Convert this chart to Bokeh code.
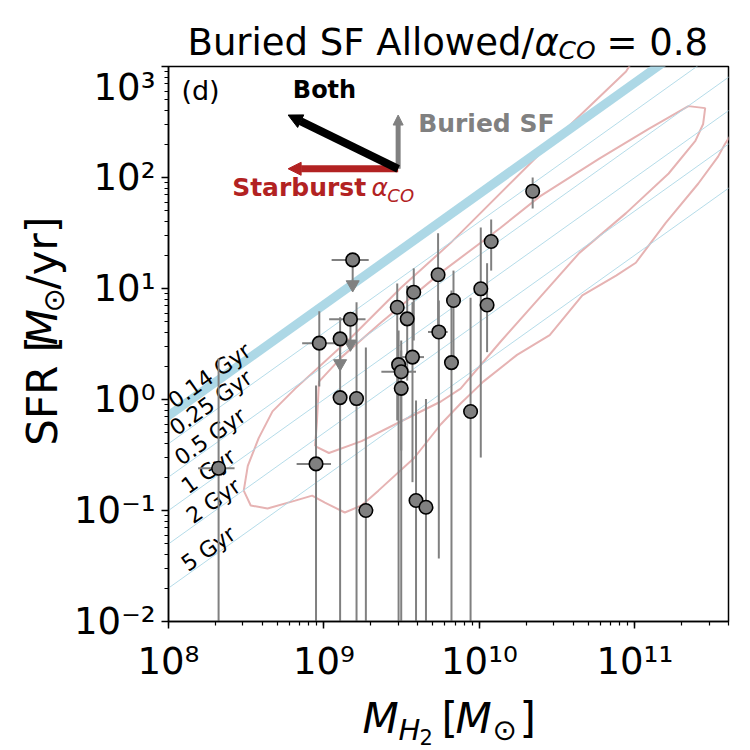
import math
from bokeh.plotting import figure
from bokeh.layouts import column, row
from bokeh.models import (Range1d, CustomJSTickFormatter, Label, Arrow,
                          NormalHead, ColumnDataSource)
from bokeh.core.properties import value
from bokeh.embed import file_html
from bokeh.resources import INLINE

nan = float("nan")

# ---------------- data ----------------
mh2 = [2.20e10, 1.19e10, 1.53e9, 5.42e9, 3.78e9, 1.02e10, 6.81e9, 1.12e10, 2.96e9,
       3.43e9, 1.48e9, 9.33e8, 1.27e9, 5.48e9, 3.71e9, 6.61e9, 3.02e9, 3.14e9,
       3.14e9, 1.27e9, 1.62e9, 8.77e9, 8.89e8, 2.10e8, 1.86e9, 3.91e9, 4.53e9]
sfr = [75.3, 26.5, 18.1, 13.3, 9.26, 9.94, 7.80, 7.10, 6.78,
       5.33, 5.29, 3.22, 3.52, 4.06, 2.41, 2.15, 2.06, 1.78,
       1.26, 1.04, 1.02, 0.780, 0.263, 0.240, 0.100, 0.123, 0.107]
sfr_lo = [52.6, 14.5, nan, 4.19, 3.40, 0.30, 2.25, 2.67, 0.647,
          1.48, nan, 1.31, nan, 0.037, 0.180, 1e-3, 1e-3, 0.347,
          1e-3, 1e-3, 1e-3, 1e-3, 1e-3, 1e-3, 1e-3, 1e-3, 1e-3]
sfr_hi = [100, 41.8, nan, 31.5, 15.2, 35.5, 14.5, 16.9, 11.1,
          10.6, nan, 6.24, nan, 7.80, 7.53, 9.59, 4.19, 3.40,
          2.76, 5.51, 7.53, 8.25, 1.34, 2.34, 2.94, 0.98, 1.01]
mh2_lo = [nan, nan, 1.12e9, nan, nan, nan, nan, nan, nan,
          nan, 1.08e9, 7.24e8, nan, 4.67e9, 3.14e9, nan, nan, 2.34e9,
          nan, nan, nan, nan, 6.67e8, 1.55e8, nan, nan, nan]
mh2_hi = [nan, nan, 1.94e9, nan, nan, nan, nan, nan, nan,
          nan, 1.85e9, 1.17e9, nan, 6.25e9, 4.4e9, nan, nan, 3.91e9,
          nan, nan, nan, nan, 1.11e9, 2.66e8, nan, nan, nan]
upper_limit = [False, False, True, False, False, False, False, False, False,
               False, True, False, True, False, False, False, False, False,
               False, False, False, False, False, False, False, False, False]

# depletion-time lines (Gyr)
t_dep_gyr = [0.14, 0.25, 0.5, 1, 2, 5]
t_dep_labels = ["0.14 Gyr", "0.25 Gyr", "0.5 Gyr", "1 Gyr", "2 Gyr", "5 Gyr"]

# comparison-sample density contours (log10 M_H2, log10 SFR)
outer_logm = [8.484, 8.529, 8.637, 8.815, 8.924, 9.006, 9.134, 9.242, 9.350, 9.580,
              9.752, 9.879, 10.025, 10.242, 10.452, 10.662, 10.879, 11.006, 11.197,
              11.408, 11.535, 11.580, 11.790, 11.535, 11.089, 10.943, 10.389, 9.815,
              9.497, 9.178, 8.815, 8.669, 8.580, 8.510, 8.484]
outer_logsfr = [-0.821, -0.955, -0.982, -0.911, -0.866, -0.929, -1.018, -0.955, -0.821,
                -0.527, -0.223, -0.036, 0.161, 0.402, 0.580, 0.938, 1.116, 1.232, 1.589,
                1.946, 2.188, 2.304, 2.750, 3.375, 3.286, 2.955, 2.214, 1.411, 1.009,
                0.563, 0.098, -0.107, -0.348, -0.598, -0.821]
inner_logm = [8.943, 8.955, 8.968, 9.115, 9.369, 9.752, 10.134, 10.389, 10.771, 11.089,
              11.344, 11.452, 11.439, 11.389, 11.217, 10.943, 10.643, 10.389, 10.134,
              9.879, 9.752, 9.497, 9.242, 9.032, 8.943]
inner_logsfr = [-0.420, -0.196, 0.161, 0.384, 0.696, 1.143, 1.545, 1.830, 2.170, 2.438,
                2.643, 2.625, 2.482, 2.330, 2.036, 1.679, 1.321, 0.920, 0.518, 0.098,
                -0.018, -0.196, -0.375, -0.482, -0.420]

# shift arrows (starburst alpha_CO and buried SF)
arrow_origin_m = 3.0e9
arrow_origin_sfr = 119.8
starburst_factor = 5.1
buried_factor = 3.05

# ---------------- layout ----------------
X0, X1 = 1e8, 4e11
Y0, Y1 = 1e-2, 1e3
TOT = 750
TOP_H, LEFT_W, BOTTOM_H = 65, 71, 60
MAIN_W = TOT - LEFT_W
MAIN_H = TOT - TOP_H - BOTTOM_H
FL, FT, FW, FH = 165, 66, 563, 555          # frame in page pixels
dx = FW / (math.log10(X1) - math.log10(X0))
dy = FH / (math.log10(Y1) - math.log10(Y0))
MID = 0.346   # em offset from baseline to the text's vertical middle


def X(px):
    return 10 ** (math.log10(X0) + (px - FL) / dx)


def Y(py):
    return 10 ** (math.log10(Y1) - (py - FT) / dy)


def PY(v):
    return FT + (math.log10(Y1) - math.log10(v)) * dy


FONT = "DejaVu Sans"

p = figure(width=MAIN_W, height=MAIN_H, x_axis_type="log", y_axis_type="log",
           x_range=Range1d(X0, X1), y_range=Range1d(Y0, Y1),
           output_backend="svg", toolbar_location=None, title=None,
           min_border_left=FL - LEFT_W, min_border_right=MAIN_W - (FL - LEFT_W) - FW,
           min_border_top=FT - TOP_H, min_border_bottom=MAIN_H - (FT - TOP_H) - FH)
p.grid.visible = False
p.outline_line_color = "black"
p.outline_line_width = 1.5
p.background_fill_color = "white"
p.border_fill_color = "white"

fmt = CustomJSTickFormatter(code="""
const sup = {"-": "\\u207b", "0": "\\u2070", "1": "\\u00b9", "2": "\\u00b2", "3": "\\u00b3",
             "4": "\\u2074", "5": "\\u2075", "6": "\\u2076", "7": "\\u2077", "8": "\\u2078", "9": "\\u2079"};
const e = Math.round(Math.log10(tick));
return "10" + String(e).split("").map(c => sup[c]).join("");
""")
for ax in (p.xaxis[0], p.yaxis[0]):
    ax.formatter = fmt
    ax.axis_line_color = "black"
    ax.axis_line_width = 1.5
    ax.major_tick_out = 7
    ax.major_tick_in = 0
    ax.minor_tick_out = 4
    ax.minor_tick_in = 0
    ax.major_tick_line_width = 1.5
    ax.minor_tick_line_width = 1.2
    ax.major_label_text_font = FONT
    ax.major_label_text_font_size = "37px"
    ax.major_label_text_color = "black"
p.xaxis[0].major_label_standoff = 11
p.yaxis[0].major_label_standoff = 6

# ---------------- contours ----------------
pink = "#e6b3b3"
p.line([10 ** v for v in outer_logm], [10 ** v for v in outer_logsfr],
       line_color=pink, line_width=2)
p.line([10 ** v for v in inner_logm], [10 ** v for v in inner_logsfr],
       line_color=pink, line_width=2)

# ---------------- depletion time lines ----------------
m_span = [1e7, 1e13]
for t in t_dep_gyr:
    p.line(m_span, [m / (t * 1e9) for m in m_span], line_color="#add8e6",
           line_width=9 if t == t_dep_gyr[0] else 0.9)

ang = math.atan2(dy, dx)
LAB_SIZE = 22
lab_px = [171.7, 173, 178, 185, 190, 185]   # label start positions (page px)
lab_x, lab_y = [], []
for bx, t in zip(lab_px, t_dep_gyr):
    by = PY(X(bx) / (t * 1e9)) - 1.5
    off = MID * LAB_SIZE
    lab_x.append(X(bx - off * math.sin(ang)))
    lab_y.append(Y(by - off * math.cos(ang)))
lab_src = ColumnDataSource(dict(x=lab_x, y=lab_y, text=t_dep_labels))
p.text(x="x", y="y", text="text", source=lab_src, angle=ang,
       text_font=value(FONT), text_font_size=value(f"{LAB_SIZE}px"), text_color="black",
       text_align="left", text_baseline="middle")

# ---------------- error bars and points ----------------
gray = "#808080"
det = [i for i in range(len(mh2)) if not upper_limit[i]]
p.segment(x0=[mh2[i] for i in det], y0=[sfr_lo[i] for i in det],
          x1=[mh2[i] for i in det], y1=[sfr_hi[i] for i in det],
          line_color=gray, line_width=2)
p.segment(x0=mh2_lo, y0=sfr, x1=mh2_hi, y1=sfr, line_color=gray, line_width=2)

ul = [i for i in range(len(mh2)) if upper_limit[i]]
ul_factor = 0.6
p.segment(x0=[mh2[i] for i in ul], y0=[sfr[i] for i in ul],
          x1=[mh2[i] for i in ul], y1=[sfr[i] * ul_factor for i in ul],
          line_color=gray, line_width=2)
p.scatter([mh2[i] for i in ul], [sfr[i] * ul_factor for i in ul],
          marker="inverted_triangle", size=13, fill_color=gray, line_color=gray)

p.scatter(mh2, sfr, marker="circle", size=13.5, fill_color=gray,
          line_color="black", line_width=1.6)

# ---------------- arrows ----------------
red = "#b22222"
p.add_layout(Arrow(x_start=arrow_origin_m, y_start=arrow_origin_sfr,
                   x_end=arrow_origin_m / starburst_factor, y_end=arrow_origin_sfr,
                   line_color=red, line_width=7,
                   end=NormalHead(size=13, fill_color=red, line_color=red)))
p.add_layout(Arrow(x_start=arrow_origin_m, y_start=arrow_origin_sfr,
                   x_end=arrow_origin_m, y_end=arrow_origin_sfr * buried_factor,
                   line_color=gray, line_width=5,
                   end=NormalHead(size=10, fill_color=gray, line_color=gray)))
p.add_layout(Arrow(x_start=arrow_origin_m, y_start=arrow_origin_sfr,
                   x_end=arrow_origin_m / starburst_factor,
                   y_end=arrow_origin_sfr * buried_factor,
                   line_color="black", line_width=8,
                   end=NormalHead(size=14, fill_color="black", line_color="black")))


def txt(px, py, text, size, style="normal", color="black"):
    # (px, py) is the baseline start in page pixels
    p.add_layout(Label(x=X(px), y=Y(py - MID * size), text=text, text_font=FONT,
                       text_font_size=f"{size}px", text_font_style=style,
                       text_color=color, text_align="left",
                       text_baseline="middle"))


txt(290, 98, "Both", 24, "bold")
txt(416, 132, "Buried SF", 25, "bold", gray)
txt(229, 196, "Starburst", 25, "bold", red)
txt(369, 196, "\u03b1", 25, "italic", red)
txt(385, 201, "CO", 18, "italic", red)
txt(178, 99, "(d)", 27)


# ---------------- text strips (title, axis labels) ----------------
def strip(w, h):
    f = figure(width=w, height=h, x_range=Range1d(0, w), y_range=Range1d(h, 0),
               x_axis_location=None, y_axis_location=None, toolbar_location=None,
               output_backend="svg", title=None, min_border_left=0,
               min_border_right=0, min_border_top=0, min_border_bottom=0)
    f.grid.visible = False
    f.outline_line_color = None
    f.background_fill_color = "white"
    f.border_fill_color = "white"
    return f


def stext(f, ox, oy, px, py, text, size, style="normal", rotated=False):
    # (px, py) is the baseline start in page pixels
    if rotated:
        ax_, ay_, angle = px - MID * size, py, math.pi / 2
    else:
        ax_, ay_, angle = px, py - MID * size, 0.0
    f.text(x=[ax_ - ox], y=[ay_ - oy], text=[text], angle=angle,
           text_font=value(FONT), text_font_size=value(f"{size}px"),
           text_font_style=value(style), text_color="black",
           text_align="left", text_baseline="middle")


top = strip(TOT, TOP_H)
stext(top, 0, 0, 187, 55, "Buried SF Allowed/", 37)
stext(top, 0, 0, 534, 55, "\u03b1", 37, "italic")
stext(top, 0, 0, 558, 59, "CO", 25, "italic")
stext(top, 0, 0, 606, 55, "= 0.8", 37)

left = strip(LEFT_W, MAIN_H)
oy = TOP_H
stext(left, 0, oy, 57, 492, "SFR [", 42, rotated=True)
stext(left, 0, oy, 57, 379, "M", 42, "italic", rotated=True)
stext(left, 0, oy, 64, 342, "\u2299", 29, rotated=True)
stext(left, 0, oy, 57, 316, "/yr]", 42, rotated=True)

bottom = strip(TOT, BOTTOM_H)
oy = TOP_H + MAIN_H
stext(bottom, 0, oy, 362, 733, "M", 42, "italic")
stext(bottom, 0, oy, 398, 740, "H", 29, "italic")
stext(bottom, 0, oy, 419, 744, "2", 21)
stext(bottom, 0, oy, 441, 733, "[", 42)
stext(bottom, 0, oy, 455, 733, "M", 42, "italic")
stext(bottom, 0, oy, 492, 740, "\u2299", 29)
stext(bottom, 0, oy, 519, 733, "]", 42)

layout = column(top, row(left, p), bottom)

with open("out.html", "w", encoding="utf-8") as f:
    f.write(file_html(layout, INLINE))
